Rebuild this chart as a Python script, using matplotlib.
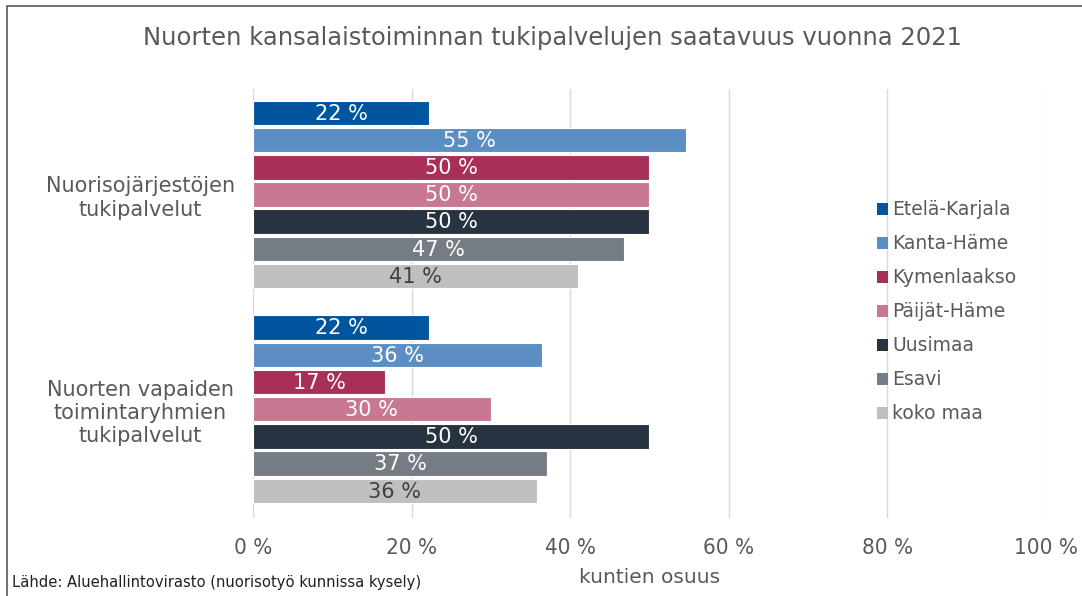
import numpy as np
import matplotlib
matplotlib.use("Agg")
import matplotlib.pyplot as plt
from matplotlib.patches import Rectangle, Patch

# data (share of municipalities, %)
regions = ["Etelä-Karjala", "Kanta-Häme", "Kymenlaakso", "Päijät-Häme",
           "Uusimaa", "Esavi", "koko maa"]
colors = ["#00559F", "#5B8FC4", "#A83056", "#C87891", "#283342", "#767C84", "#BFBFBF"]
label_colors = ["white"] * 6 + ["#404040"]
groups = ["Nuorisojärjestöjen\ntukipalvelut",
          "Nuorten vapaiden\ntoimintaryhmien\ntukipalvelut"]
vals_jarjestot = [22.2, 54.6, 50.0, 50.0, 50.0, 46.8, 41.0]
vals_ryhmat = [22.2, 36.4, 16.7, 30.0, 50.0, 37.1, 35.8]
xticks = [0, 20, 40, 60, 80, 100]

grey = "#595959"

fig = plt.figure(figsize=(10.82, 5.96), dpi=100)
ax = fig.add_axes([0.2338, 0.1309, 0.7329, 0.7198])

group_offset = [0.0, 7.9]
for g, vals in enumerate([vals_jarjestot, vals_ryhmat]):
    y = group_offset[g] + np.arange(len(vals))
    ax.barh(y, vals, height=0.9, color=colors, edgecolor="white", linewidth=0.8, zorder=2)
    for yi, v, tc in zip(y, vals, label_colors):
        ax.text(v / 2, yi + 0.03, f"{round(v):.0f} %", ha="center", va="center",
                fontsize=15, color=tc, zorder=3)

ax.set_xlim(0, 100)
ax.set_ylim(14.9, -0.88)
ax.set_xticks(xticks)
ax.set_xticklabels([f"{t} %" for t in xticks], fontsize=16, color=grey, fontstretch="condensed")
ax.tick_params(axis="x", length=0, pad=14.5)
ax.grid(axis="x", color="#D9D9D9", linewidth=1, zorder=0)
ax.set_yticks([3.0, 10.9])
ax.set_yticklabels(groups, fontsize=15, color=grey, ha="center", multialignment="center")
ax.tick_params(axis="y", length=0, pad=81)
for s in ax.spines.values():
    s.set_visible(False)
ax.set_xlabel("kuntien osuus", fontsize=14.5, color=grey, labelpad=7)

fig.text(0.511, 0.936, "Nuorten kansalaistoiminnan tukipalvelujen saatavuus vuonna 2021",
         ha="center", va="center", fontsize=17.5, color=grey)
fig.text(0.011, 0.022, "Lähde: Aluehallintovirasto (nuorisotyö kunnissa kysely)",
         ha="left", va="center", fontsize=11.8, color="#202020", fontstretch="condensed")

handles = [Patch(facecolor=c) for c in colors]
fig.legend(handles, regions, loc="upper left", bbox_to_anchor=(0.795, 0.692),
           frameon=False, fontsize=13.5, labelcolor=grey, handlelength=0.6,
           handleheight=0.6, handletextpad=0.2, labelspacing=0.80)

# thin frame around the chart area, cut by the right/bottom image edge
fig.patches.append(Rectangle((7 / 1082, -0.05), 1.2, 1 - 6 / 596 + 0.05,
                             transform=fig.transFigure, fill=False,
                             edgecolor="#595959", linewidth=1.2))

fig.savefig("out.png", dpi=100)
